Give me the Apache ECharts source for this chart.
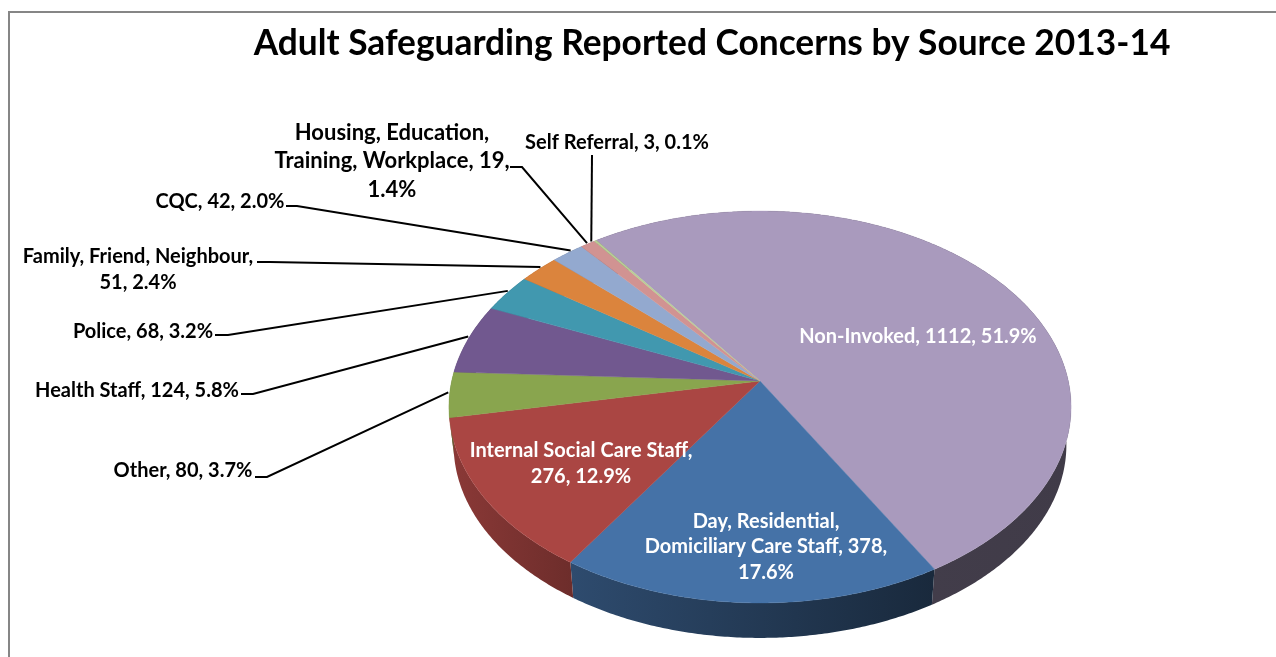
<!DOCTYPE html>
<html>
<head>
<meta charset="utf-8">
<title>Adult Safeguarding Reported Concerns by Source 2013-14</title>
<script src="https://cdn.jsdelivr.net/npm/echarts@6/dist/echarts.min.js"></script>
<style>
  html, body { margin: 0; padding: 0; background: #fff; }
  #chart { width: 1276px; height: 657px; }
</style>
</head>
<body>
<div id="chart"></div>
<script>
// Reported concerns, clockwise from the top-left of the pie.
const categories = [
  'Non-Invoked',
  'Day, Residential, Domiciliary Care Staff',
  'Internal Social Care Staff',
  'Other',
  'Health Staff',
  'Police',
  'Family, Friend, Neighbour',
  'CQC',
  'Housing, Education, Training, Workplace',
  'Self Referral'
];
const reportedCounts = [1112, 378, 276, 80, 124, 68, 51, 42, 19, 3];
const statedPercents = ['51.9', '17.6', '12.9', '3.7', '5.8', '3.2', '2.4', '2.0', '1.4', '0.1'];

// Slice styling: top face colour, then wall shade at its left and right ends.
const topColors = ['#A99ABD', '#4572A7', '#AA4643', '#89A54E', '#71588F',
                   '#4198AF', '#DB843D', '#93A9CF', '#D19392', '#B9CD96'];
const wallShades = [[0.42, 0.38], [0.66, 0.36], [0.82, 0.64], [0.7, 0.6], [0.7, 0.6],
                    [0.7, 0.6], [0.7, 0.6], [0.7, 0.6], [0.7, 0.6], [0.7, 0.6]];

// Label layout: centre of the text block, colour, size, leading, where lines wrap, leader tail.
const labelCentres = [[918, 337], [766, 547], [581, 464], [183, 471], [137, 391],
                      [143, 332], [138, 270], [220, 202], [392, 161], [617, 143]];
const labelColors = ['#fff', '#fff', '#fff', '#000', '#000', '#000', '#000', '#000', '#000', '#000'];
const labelSizes = [20, 20, 20, 20, 20, 20, 20, 20, 22, 20];
const labelLeading = [26, 25.5, 26, 26, 26, 26, 26, 26, 28.5, 26];
const labelBreaks = [[], ['Residential,', '378,'], ['Staff,'], [], [], [],
                     ['Neighbour,'], [], ['Education,', '19,'], []];
const leaderTails = [null, null, null,
  [[255, 477], [267, 477]], [[241, 394], [253, 394]], [[215, 335], [228, 335]],
  [[257, 262], [270, 262]], [[286, 206], [297, 206]], [[510, 167], [522, 167]], [[592, 155]]];
const leaderNudge = [0, 0, 0, 0.7, 0.7, 0.7, 0.7, 1, 0, -0.8];

// Tilted-disc geometry: a circle seen in perspective.
const apex = [760, 381];
const scaleX = 308.3, scaleY = 192.5, perspective = 0.1327;
const floorDrop = 38.3, floorScale = 0.985;
const startAngle = -36;

const total = reportedCounts.reduce((a, b) => a + b, 0);
const sliceStart = [];
reportedCounts.reduce((acc, v, i) => { sliceStart[i] = acc; return acc + v / total * 360; }, startAngle);

function project(deg, radius = 1, scale = 1, drop = 0) {
  const t = deg * Math.PI / 180;
  const u = Math.sin(t) * radius, v = -Math.cos(t) * radius;
  const w = 1 - perspective * v;
  return [apex[0] + scale * scaleX * u / w, apex[1] + drop + scale * scaleY * v / w];
}

function rimPoints(from, to, scale, drop) {
  const pts = [];
  const steps = Math.max(2, Math.ceil((to - from) / 0.5));
  for (let s = 0; s <= steps; s++) pts.push(project(from + (to - from) * s / steps, 1, scale, drop));
  return pts;
}

function shade(hex, k) {
  const n = parseInt(hex.slice(1), 16);
  const c = [(n >> 16) & 255, (n >> 8) & 255, n & 255].map(x => Math.round(x * k));
  return `rgb(${c.join(',')})`;
}

function labelText(i) {
  let s = `${categories[i]}, ${reportedCounts[i]}, ${statedPercents[i]}%`;
  labelBreaks[i].forEach(p => { s = s.replace(p + ' ', p + '\n'); });
  return s;
}

// Side wall of one slice, between the top rim and the smaller floor rim.
function renderWall(params, api) {
  const i = params.dataIndex;
  const from = sliceStart[i], to = from + api.value(0) / total * 360;
  const top = rimPoints(from, to, 1, 0);
  const low = rimPoints(from, to, floorScale, floorDrop).reverse();
  const xs = top.concat(low).map(p => p[0]);
  const x0 = Math.min(...xs), x1 = Math.max(...xs);
  const fill = new echarts.graphic.LinearGradient(x0, 0, x1, 0, [
    { offset: 0, color: shade(topColors[i], wallShades[i][0]) },
    { offset: 1, color: shade(topColors[i], wallShades[i][1]) }
  ], true);
  return { type: 'polygon', shape: { points: top.concat(low) }, style: { fill, stroke: null } };
}

// Top face of one slice, with its label and leader line.
function renderTop(params, api) {
  const i = params.dataIndex;
  const from = sliceStart[i], to = from + api.value(0) / total * 360;
  const color = topColors[i];
  const children = [{
    type: 'polygon',
    shape: { points: [apex].concat(rimPoints(from, to, 1, 0)) },
    style: { fill: color, stroke: color, lineWidth: 0.4 }
  }];
  if (leaderTails[i]) {
    const end = project((from + to) / 2 + leaderNudge[i], 1.005);
    children.push({
      type: 'polyline',
      z2: 5,
      shape: { points: leaderTails[i].concat([end]) },
      style: { fill: null, stroke: '#000', lineWidth: 2 }
    });
  }
  children.push({
    type: 'text',
    z2: 10,
    style: {
      text: labelText(i),
      x: labelCentres[i][0],
      y: labelCentres[i][1],
      fill: labelColors[i],
      fontFamily: 'Lato',
      fontWeight: 'bold',
      fontSize: labelSizes[i],
      lineHeight: labelLeading[i],
      align: 'center',
      verticalAlign: 'middle'
    }
  });
  return { type: 'group', children };
}

const rows = categories.map((name, i) => ({ name, value: [reportedCounts[i]] }));
const chart = echarts.init(document.getElementById('chart'), null, { renderer: 'canvas' });
chart.setOption({
  animation: false,
  backgroundColor: '#fff',
  title: {
    text: 'Adult Safeguarding Reported Concerns by Source 2013-14',
    left: 707,
    top: 21,
    textAlign: 'center',
    textStyle: { fontFamily: 'Lato', fontWeight: 'bold', fontSize: 35.3, color: '#000' }
  },
  graphic: [{
    type: 'polyline',
    shape: { points: [[9, 657], [9, 12], [1276, 12]] },
    style: { fill: null, stroke: '#868686', lineWidth: 2 }
  }],
  series: [
    { type: 'custom', coordinateSystem: 'none', z: 1, silent: true, renderItem: renderWall, data: rows },
    { type: 'custom', coordinateSystem: 'none', z: 2, silent: true, renderItem: renderTop, data: rows }
  ]
});
</script>
</body>
</html>
